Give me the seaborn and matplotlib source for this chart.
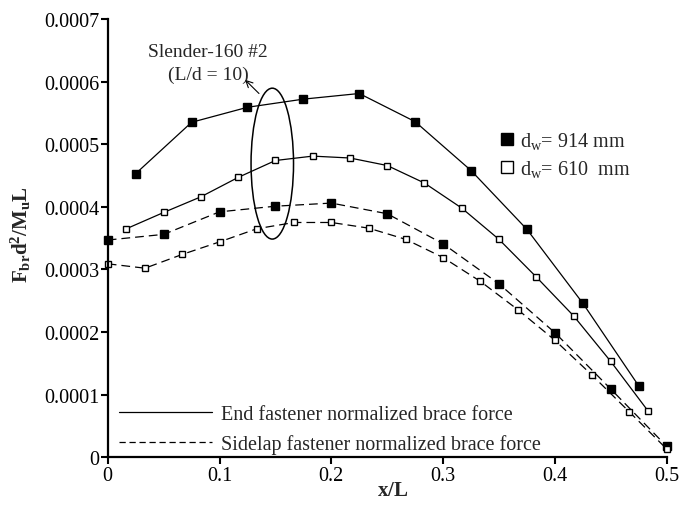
import matplotlib
matplotlib.use("Agg")
import matplotlib.pyplot as plt
from matplotlib.lines import Line2D
from matplotlib.patches import Ellipse
import numpy as np
import pandas as pd
import seaborn as sns

# End fastener brace force, d_w = 914 mm
x_end_914 = [0.025, 0.075, 0.125, 0.175, 0.225, 0.275, 0.325, 0.375, 0.425, 0.475]
y_end_914 = [0.000453, 0.000535, 0.000559, 0.000572, 0.000581, 0.000536,
             0.000458, 0.000364, 0.000246, 0.000114]

# End fastener brace force, d_w = 610 mm
x_end_610 = [1/60, 3/60, 5/60, 7/60, 9/60, 11/60, 13/60, 15/60, 17/60,
             19/60, 21/60, 23/60, 25/60, 27/60, 29/60]
y_end_610 = [0.000365, 0.000391, 0.000416, 0.000447, 0.000474, 0.000481,
             0.000478, 0.000466, 0.000438, 0.000398, 0.000348, 0.000288,
             0.000226, 0.000153, 0.000074]

# Sidelap fastener brace force, d_w = 914 mm
x_side_914 = [0.0, 0.05, 0.10, 0.15, 0.20, 0.25, 0.30, 0.35, 0.40, 0.45, 0.50]
y_side_914 = [0.000347, 0.000356, 0.000392, 0.000401, 0.000406, 0.000389,
              0.000341, 0.000277, 0.000199, 0.000109, 0.0000176]

# Sidelap fastener brace force, d_w = 610 mm
x_side_610 = [i / 30 for i in range(16)]
y_side_610 = [0.000309, 0.000302, 0.000324, 0.000344, 0.000365, 0.000375,
              0.000375, 0.000366, 0.000348, 0.000319, 0.000281, 0.000236,
              0.000187, 0.000131, 0.0000724, 0.0000133]

x_ticks = [0, 0.1, 0.2, 0.3, 0.4, 0.5]
x_tick_labels = ["0", "0.1", "0.2", "0.3", "0.4", "0.5"]
y_ticks = [0, 0.0001, 0.0002, 0.0003, 0.0004, 0.0005, 0.0006, 0.0007]
y_tick_labels = ["0", "0.0001", "0.0002", "0.0003", "0.0004", "0.0005", "0.0006", "0.0007"]

sns.set_theme(style="ticks")
plt.rcParams["font.family"] = ["Liberation Serif", "DejaVu Serif"]
plt.rcParams["mathtext.fontset"] = "custom"
plt.rcParams["mathtext.rm"] = "Liberation Serif"
plt.rcParams["mathtext.it"] = "Liberation Serif"
plt.rcParams["mathtext.bf"] = "Liberation Serif:bold"

fig = plt.figure(figsize=(6.88, 5.10), dpi=100)
ax = fig.add_axes([0.1566, 0.1014, 0.8124, 0.8594])

dash = (0, (7, 4))
series = [
    (x_end_914, y_end_914, "-", "black", 5.2),
    (x_end_610, y_end_610, "-", "white", 4.6),
    (x_side_914, y_side_914, dash, "black", 5.2),
    (x_side_610, y_side_610, dash, "white", 4.6),
]
for xs, ys, ls, face, ms in series:
    df = pd.DataFrame({"x": xs, "y": ys})
    sns.lineplot(data=df, x="x", y="y", ax=ax, color="black", linewidth=0.9,
                 linestyle=ls, marker="s", markersize=ms, markerfacecolor=face,
                 markeredgecolor="black", markeredgewidth=1.0, legend=False,
                 sort=False)

ax.set_xlim(0, 0.5)
ax.set_ylim(0, 0.0007)
ax.set_xticks(x_ticks)
ax.set_xticklabels(x_tick_labels)
ax.set_yticks(y_ticks)
ax.set_yticklabels(y_tick_labels)
ax.tick_params(axis="both", direction="out", length=5, width=1.5,
               labelsize=14.5, colors="black")
ax.tick_params(axis="x", pad=1)
ax.tick_params(axis="y", pad=1)
for side in ("top", "right"):
    ax.spines[side].set_visible(False)
for side in ("left", "bottom"):
    ax.spines[side].set_linewidth(1.6)
    ax.spines[side].set_color("black")
for ln in ax.lines:
    ln.set_clip_on(False)

ax.set_xlabel(r"$\mathbf{x/L}$", fontsize=15, labelpad=0)
ax.xaxis.set_label_coords(0.509, -0.055)
ax.set_ylabel(r"$\mathbf{F_{br}d^2/M_uL}$", fontsize=15)
ax.yaxis.set_label_coords(-0.134, 0.51)

# Ellipse grouping the curves at the annotated section
ax.add_patch(Ellipse((0.1472, 0.000469), width=0.038, height=0.000241,
                     fill=False, edgecolor="black", linewidth=1.1))
ax.annotate("", xy=(0.1228, 0.000603), xytext=(0.1353, 0.000581),
            arrowprops=dict(arrowstyle="->", color="black", linewidth=0.8,
                            shrinkA=0, shrinkB=0))
ax.text(0.0897, 0.000630, "Slender-160 #2\n(L/d = 10)", ha="center",
        va="center", fontsize=14, linespacing=1.4)

# Marker legend
marker_handles = [
    Line2D([], [], linestyle="none", marker="s", markersize=8.5,
           markerfacecolor="black", markeredgecolor="black"),
    Line2D([], [], linestyle="none", marker="s", markersize=8.5,
           markerfacecolor="white", markeredgecolor="black", markeredgewidth=1.0),
]
leg1 = ax.legend(marker_handles,
                 [r"d$_\mathregular{w}$= 914 mm", r"d$_\mathregular{w}$= 610  mm"],
                 loc="upper left", bbox_to_anchor=(0.686, 0.766), frameon=False,
                 fontsize=14.5, handlelength=0.8, handletextpad=0.25,
                 labelspacing=0.35, borderaxespad=0)
ax.add_artist(leg1)

# Line-style legend
line_handles = [
    Line2D([], [], color="black", linewidth=0.9, linestyle="-"),
    Line2D([], [], color="black", linewidth=0.9, linestyle=(0, (5, 3))),
]
ax.legend(line_handles,
          ["End fastener normalized brace force",
           "Sidelap fastener normalized brace force"],
          loc="lower left", bbox_to_anchor=(-0.005, -0.024), frameon=False,
          fontsize=14.5, handlelength=4.6, handletextpad=0.45,
          labelspacing=0.5, borderaxespad=0.3)

fig.savefig("out.png", dpi=100)
